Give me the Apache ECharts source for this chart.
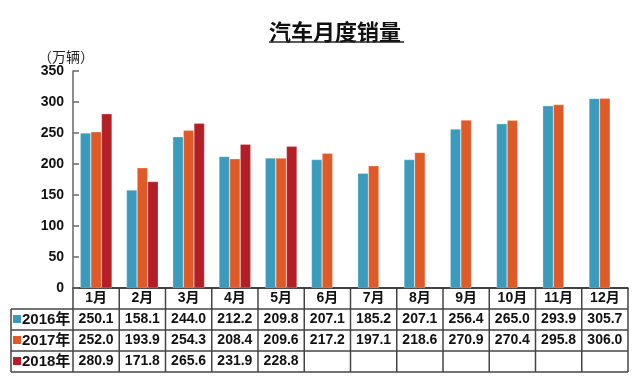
<!DOCTYPE html>
<html>
<head>
<meta charset="utf-8">
<script src="https://cdn.jsdelivr.net/npm/echarts@6/dist/echarts.min.js"></script>
<style>
html,body{margin:0;padding:0;background:#fff}
#main{width:640px;height:377px}
</style>
</head>
<body>
<div id="main"></div>
<script>
var months = ['1月','2月','3月','4月','5月','6月','7月','8月','9月','10月','11月','12月'];
var years = ['2016年','2017年','2018年'];
var sales2016 = [250.1,158.1,244.0,212.2,209.8,207.1,185.2,207.1,256.4,265.0,293.9,305.7];
var sales2017 = [252.0,193.9,254.3,208.4,209.6,217.2,197.1,218.6,270.9,270.4,295.8,306.0];
var sales2018 = [280.9,171.8,265.6,231.9,228.8,null,null,null,null,null,null,null];
var colors = ['#3a9bbd','#e05a27','#b41e27'];

var font = '"Liberation Sans", Arial, "Noto Sans CJK SC", sans-serif';
var dom = document.getElementById('main');
var myChart = echarts.init(dom);
var allSales = [sales2016, sales2017, sales2018];

var option = {
    animation: false,
    grid: {left: 73, right: 12, top: 71, bottom: 89},
    xAxis: {
        type: 'category',
        data: months,
        axisLine: {show: true, lineStyle: {color: '#333', width: 1.5}},
        axisTick: {show: false},
        axisLabel: {show: false}
    },
    yAxis: {
        type: 'value',
        min: 0,
        max: 350,
        interval: 50,
        axisLine: {show: true, lineStyle: {color: '#666', width: 1.5}},
        axisTick: {show: true, inside: true, length: 6, lineStyle: {color: '#666', width: 1.5}},
        axisLabel: {color: '#111', fontSize: 14, fontWeight: 'bold', fontFamily: font, margin: 9},
        splitLine: {show: false}
    },
    series: years.map(function (y, k) {
        return {
            name: y,
            type: 'bar',
            data: allSales[k],
            barWidth: 10.6,
            barGap: '0%',
            itemStyle: {color: colors[k], borderColor: 'rgba(255,255,255,0.5)', borderWidth: 0.5}
        };
    })
};
myChart.setOption(option);

// 标题、单位和下方数据表
var g = [];
g.push({type: 'text', left: 269, top: 21, style: {text: '汽车月度销量', fontSize: 22, fontWeight: 'bold',
    fontFamily: '"Noto Sans CJK SC", sans-serif', fill: '#111'}});
g.push({type: 'line', shape: {x1: 269, y1: 42, x2: 404, y2: 42}, style: {stroke: '#222', lineWidth: 1.5}});
g.push({type: 'text', left: 38, top: 50, style: {text: '（万辆）', fontSize: 14,
    fontFamily: '"Noto Sans CJK SC", sans-serif', fill: '#222'}});

var c0 = myChart.convertToPixel({xAxisIndex: 0}, 0);
var c1 = myChart.convertToPixel({xAxisIndex: 0}, 1);
var half = (c1 - c0) / 2;
var left0 = c0 - half;
var right0 = myChart.convertToPixel({xAxisIndex: 0}, months.length - 1) + half;
var tableLeft = 11;
var rowY = [288, 309, 330, 351, 372];
var lineStyle = {stroke: '#444', lineWidth: 1.5};

// 横线
g.push({type: 'line', shape: {x1: left0, y1: rowY[0], x2: right0, y2: rowY[0]}, style: lineStyle});
for (var r = 1; r < rowY.length; r++) {
    g.push({type: 'line', shape: {x1: tableLeft, y1: rowY[r], x2: right0, y2: rowY[r]}, style: lineStyle});
}
// 竖线
g.push({type: 'line', shape: {x1: tableLeft, y1: rowY[1], x2: tableLeft, y2: rowY[4]}, style: lineStyle});
for (var i = 0; i <= months.length; i++) {
    var x = left0 + i * half * 2;
    g.push({type: 'line', shape: {x1: x, y1: rowY[0], x2: x, y2: rowY[4]}, style: lineStyle});
}
// 月份
months.forEach(function (m, i) {
    var cx = myChart.convertToPixel({xAxisIndex: 0}, i);
    g.push({type: 'text', x: cx, y: (rowY[0] + rowY[1]) / 2, style: {text: m, fontSize: 14, fontWeight: 'bold',
        fontFamily: font, fill: '#111', align: 'center', verticalAlign: 'middle'}});
});
// 数据行
years.forEach(function (y, k) {
    var cy = (rowY[k + 1] + rowY[k + 2]) / 2;
    g.push({type: 'rect', shape: {x: 13, y: cy - 4.5, width: 8, height: 8}, style: {fill: colors[k]}});
    g.push({type: 'text', x: 22, y: cy, style: {text: y, fontSize: 15, fontWeight: 'bold',
        fontFamily: font, fill: '#111', align: 'left', verticalAlign: 'middle'}});
    allSales[k].forEach(function (v, i) {
        if (v == null) return;
        var cx = myChart.convertToPixel({xAxisIndex: 0}, i);
        g.push({type: 'text', x: cx, y: cy, style: {text: v.toFixed(1), fontSize: 14, fontWeight: 'bold',
            fontFamily: font, fill: '#111', align: 'center', verticalAlign: 'middle'}});
    });
});
myChart.setOption({graphic: g});
</script>
</body>
</html>
